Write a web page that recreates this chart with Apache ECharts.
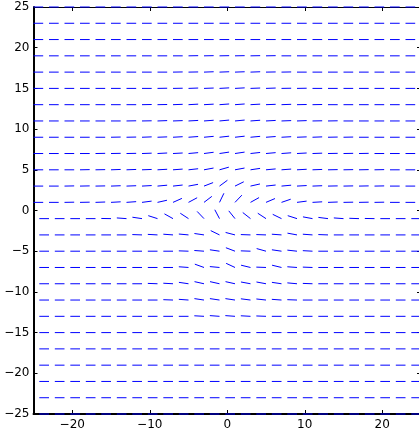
<!DOCTYPE html>
<html>
<head>
<meta charset="utf-8">
<script src="https://cdn.jsdelivr.net/npm/echarts@6/dist/echarts.min.js"></script>
<style>
  html, body { margin: 0; padding: 0; background: #fff; }
  #chart { width: 419px; height: 437px; }
</style>
</head>
<body>
<div id="chart"></div>
<script>
// Grid of sample points (columns left to right, rows top to bottom)
const xs = [-25, -23, -21, -19, -17, -15, -13, -11, -9, -7, -5, -3, -1, 1, 3, 5, 7, 9, 11, 13, 15, 17, 19, 21, 23, 25];
const ys = [25, 23, 21, 19, 17, 15, 13, 11, 9, 7, 5, 3, 1, -1, -3, -5, -7, -9, -11, -13, -15, -17, -19, -21, -23, -25];

// Direction of the field at each point, degrees (0 = right, 90 = up, 180 = left)
const dirY25  = [0,0,0,0,0,0,0,0,0,0,0,0,0,0,0,0,0,0,0,0,0,0,0,0,0,0];
const dirY23  = [0,0,0,0,0,0,0,0,0,0,0,0,0,0,0,0,0,0,0,0,0,0,0,0,0,0];
const dirY21  = [0,0,0,0,0,0,0,0,0,0,0,0,0,0,0,0,0,0,0,0,0,0,0,0,0,0];
const dirY19  = [0,0,0,0,0,0,0,0,0,0,1,1,1,1,1,1,0,0,0,0,0,0,0,0,0,0];
const dirY17  = [0,0,0,0,0,0,0,0,0,1,1,2,2,2,2,1,1,0,0,0,0,0,0,0,0,0];
const dirY15  = [0,0,0,0,0,0,0,0,1,1,2,2,3,3,2,2,1,1,0,0,0,0,0,0,0,0];
const dirY13  = [0,0,0,0,0,0,0,1,1,2,3,3,4,4,3,2,2,1,1,0,0,0,0,0,0,0];
const dirY11  = [0,0,0,0,0,0,1,1,2,2,3,4,5,5,4,3,2,2,1,1,0,0,0,0,0,0];
const dirY9   = [0,0,0,0,0,1,1,2,2,3,4,5,6,6,5,4,3,2,2,1,1,0,0,0,0,0];
const dirY7   = [0,0,0,0,1,1,1,2,3,3,5,7,8,8,6,5,4,3,2,1,1,1,0,0,0,0];
const dirY5   = [0,0,0,1,1,2,2,2,3,4,6,10,15,10,8,5,4,3,2,1,1,1,1,0,0,0];
const dirY3   = [0,0,1,1,1,2,2,3,5,6,10,20,35,25,12,6,5,3,2,1,1,1,1,0,0,0];
const dirY1   = [0,0,1,1,2,3,4,7,12,23,27,36,63,45,28,22,18,7,3,2,1,1,1,0,0,0];
const dirYm1  = [180,180,180,180,180,179,176,172,163,152,148,135,119,130,143,148,155,163,170,173,176,178,179,180,180,180];
const dirYm3  = [180,180,180,180,180,180,180,178,177,176,175,172,155,166,178,178,176,170,176,178,180,180,180,180,180,180];
const dirYm5  = [180,180,180,180,180,180,180,180,180,180,178,176,172,160,178,165,172,174,177,180,180,180,180,180,180,180];
const dirYm7  = [180,180,180,180,180,180,180,180,180,180,176,161,175,156,167,178,167,176,178,180,180,180,180,180,180,180];
const dirYm9  = [180,180,180,180,180,180,180,180,178,177,172,168,168,168,170,170,172,175,178,180,180,180,180,180,180,180];
const dirYm11 = [180,180,180,180,180,180,180,180,180,178,176,172,172,172,173,174,176,178,180,180,180,180,180,180,180,180];
const dirYm13 = [180,180,180,180,180,180,180,180,180,180,180,177,176,176,177,178,180,180,180,180,180,180,180,180,180,180];
const dirYm15 = [180,180,180,180,180,180,180,180,180,180,180,180,180,180,180,180,180,180,180,180,180,180,180,180,180,180];
const dirYm17 = [180,180,180,180,180,180,180,180,180,180,180,180,180,180,180,180,180,180,180,180,180,180,180,180,180,180];
const dirYm19 = [180,180,180,180,180,180,180,180,180,180,180,180,180,180,180,180,180,180,180,180,180,180,180,180,180,180];
const dirYm21 = [180,180,180,180,180,180,180,180,180,180,180,180,180,180,180,180,180,180,180,180,180,180,180,180,180,180];
const dirYm23 = [180,180,180,180,180,180,180,180,180,180,180,180,180,180,180,180,180,180,180,180,180,180,180,180,180,180];
const dirYm25 = [180,180,180,180,180,180,180,180,180,180,180,180,180,180,180,180,180,180,180,180,180,180,180,180,180,180];

const directionRows = [dirY25, dirY23, dirY21, dirY19, dirY17, dirY15, dirY13, dirY11, dirY9, dirY7, dirY5, dirY3, dirY1,
  dirYm1, dirYm3, dirYm5, dirYm7, dirYm9, dirYm11, dirYm13, dirYm15, dirYm17, dirYm19, dirYm21, dirYm23, dirYm25];

// Axis tick labels
const xTickValues = [-20, -10, 0, 10, 20];
const yTickValues = [-25, -20, -15, -10, -5, 0, 5, 10, 15, 20, 25];

// Segment length in data units (unit-length field, fixed scale)
const SEG_LEN = 1.25;
const X_MIN = -25, X_MAX = 25, Y_MIN = -25, Y_MAX = 25;

const segData = [];
ys.forEach((y, r) => {
  xs.forEach((x, c) => {
    segData.push([x, y, directionRows[r][c]]);
  });
});

const fmt = v => (v < 0 ? '\u2212' + Math.abs(v) : String(v));
const labelFont = { color: '#000', fontFamily: 'DejaVu Sans, Liberation Sans, sans-serif', fontSize: 12 };

const chart = echarts.init(document.getElementById('chart'), null, { renderer: 'canvas' });
chart.setOption({
  animation: false,
  backgroundColor: '#fff',
  grid: { left: 33.5, top: 7, width: 387.5, height: 407, containLabel: false, outerBoundsMode: 'none' },
  xAxis: [
    {
      type: 'value', position: 'bottom', min: X_MIN, max: X_MAX,
      axisLine: { onZero: false, lineStyle: { color: '#000', width: 2 } },
      axisTick: { inside: true, length: 4, customValues: xTickValues, lineStyle: { color: '#000' } },
      axisLabel: { customValues: xTickValues, formatter: fmt, margin: 5, ...labelFont },
      splitLine: { show: false }
    },
    {
      type: 'value', position: 'top', min: X_MIN, max: X_MAX,
      axisLine: { onZero: false, lineStyle: { color: '#000', width: 1 } },
      axisTick: { inside: true, length: 4, customValues: xTickValues, lineStyle: { color: '#000' } },
      axisLabel: { show: false },
      splitLine: { show: false }
    }
  ],
  yAxis: [
    {
      type: 'value', position: 'left', min: Y_MIN, max: Y_MAX, interval: 5,
      axisLine: { onZero: false, lineStyle: { color: '#000', width: 2 } },
      axisTick: { inside: true, length: 4, lineStyle: { color: '#000' } },
      axisLabel: { customValues: yTickValues, formatter: fmt, margin: 4, ...labelFont },
      splitLine: { show: false }
    },
    {
      type: 'value', position: 'right', min: Y_MIN, max: Y_MAX, interval: 5,
      axisLine: { onZero: false, lineStyle: { color: '#000', width: 1 } },
      axisTick: { inside: true, length: 4, lineStyle: { color: '#000' } },
      axisLabel: { show: false },
      splitLine: { show: false }
    }
  ],
  series: [{
    type: 'custom',
    xAxisIndex: 0,
    yAxisIndex: 0,
    z: 5,
    data: segData,
    renderItem(params, api) {
      const x = api.value(0), y = api.value(1);
      const a = api.value(2) * Math.PI / 180;
      const x2 = x + SEG_LEN * Math.cos(a);
      const y2 = y + SEG_LEN * Math.sin(a);
      // segments leaving the axes box are not drawn
      if (x2 < X_MIN - 1e-6 || x2 > X_MAX + 1e-6 || y2 < Y_MIN - 1e-6 || y2 > Y_MAX + 1e-6) return null;
      const p1 = api.coord([x, y]);
      const p2 = api.coord([x2, y2]);
      return {
        type: 'line',
        shape: { x1: p1[0], y1: p1[1], x2: p2[0], y2: p2[1] },
        style: { stroke: '#0000ff', lineWidth: 1 }
      };
    }
  }]
});
</script>
</body>
</html>
